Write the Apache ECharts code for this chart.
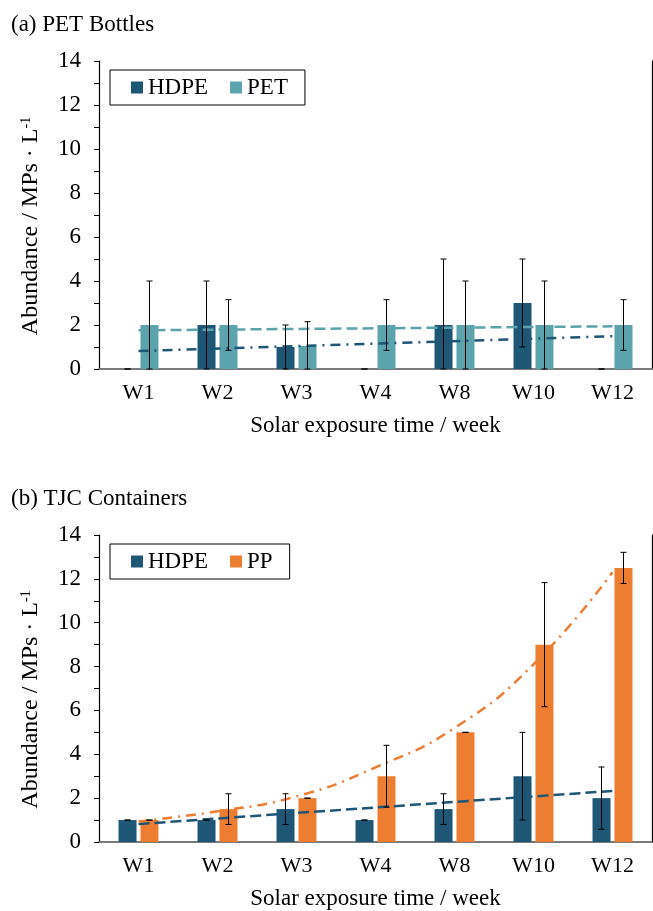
<!DOCTYPE html>
<html>
<head>
<meta charset="utf-8">
<script src="https://cdn.jsdelivr.net/npm/echarts@6/dist/echarts.min.js"></script>
<style>
html, body { margin: 0; padding: 0; background: #fff; }
#main { width: 653px; height: 911px; }
</style>
</head>
<body>
<div id="main"></div>
<script>
// categories
var weeks = ['W1', 'W2', 'W3', 'W4', 'W8', 'W10', 'W12'];
// (a) PET bottles
var petHdpe = [0, 2, 1, 0, 2, 3, 0];
var petHdpeErr = [0, 2, 1, 0, 3, 2, 0];
var petPet = [2, 2, 1.05, 2, 2, 2, 2];
var petPetErr = [2, 1.15, 1.1, 1.15, 2, 2, 1.15];
var petHdpeTrend = [0.82, null, null, null, null, null, 1.49];
var petPetTrend = [1.76, null, null, null, null, null, 1.94];
// (b) TJC containers
var tjcHdpe = [1, 1, 1.5, 1, 1.5, 3, 2];
var tjcHdpeErr = [0, 0, 0.7, 0, 0.7, 2, 1.42];
var tjcPp = [1, 1.5, 2, 3, 5, 9, 12.5];
var tjcPpErr = [0, 0.7, 0, 1.41, 0, 2.83, 0.71];
var tjcHdpeTrend = [0.82, null, null, null, null, null, 2.33];
var tjcPpTrend = [0.94, 1.4, 2.08, 3.4, 5.2, 8.1, 12.3];

var FONT = "'Liberation Serif', 'Times New Roman', serif";
var C_HDPE = '#1e5676';
var C_PET = '#5ba4ae';
var C_PP = '#ed7d31';
var BAR_W = 18;
var BAR_OFF = 11;

/*
 * 误差线
 */
function errSeries(name, gi, vals, errs, off) {
	return {
		name: name,
		type: 'custom',
		xAxisIndex: gi * 2,
		yAxisIndex: gi * 2,
		z: 5,
		encode: { x: 0, y: 1 },
		data: weeks.map(function (w, i) { return [i, vals[i], errs[i]]; }),
		renderItem: function (params, api) {
			var idx = api.value(0), v = api.value(1), e = api.value(2);
			var hi = api.coord([idx, v + e]);
			var lo = api.coord([idx, Math.max(v - e, 0)]);
			var x = hi[0] + off;
			var st = { stroke: '#000', lineWidth: 1 };
			return {
				type: 'group',
				children: [
					{ type: 'line', shape: { x1: x, y1: hi[1], x2: x, y2: lo[1] }, style: st },
					{ type: 'line', shape: { x1: x - 3, y1: hi[1], x2: x + 3, y2: hi[1] }, style: st },
					{ type: 'line', shape: { x1: x - 3, y1: lo[1], x2: x + 3, y2: lo[1] }, style: st }
				]
			};
		}
	};
}
function barSeries(name, gi, vals, color) {
	return {
		name: name,
		type: 'bar',
		xAxisIndex: gi * 2,
		yAxisIndex: gi * 2,
		barWidth: BAR_W,
		barGap: '22%',
		itemStyle: { color: color },
		data: vals
	};
}
function trendSeries(name, gi, vals, color, dash, smooth) {
	return {
		name: name,
		type: 'line',
		xAxisIndex: gi * 2,
		yAxisIndex: gi * 2,
		z: 4,
		symbol: 'none',
		smooth: smooth,
		connectNulls: true,
		lineStyle: { color: color, width: 2.5, type: dash },
		data: vals
	};
}
function xAxes(gi) {
	return [{
		type: 'category',
		gridIndex: gi,
		data: weeks,
		axisLine: { lineStyle: { color: '#404040', width: 1.5 } },
		axisTick: { show: false },
		axisLabel: { color: '#000', fontFamily: FONT, fontSize: 22, margin: 13 },
		name: 'Solar exposure time / week',
		nameLocation: 'middle',
		nameGap: 45,
		nameTextStyle: { color: '#000', fontFamily: FONT, fontSize: 23 }
	}, {
		type: 'category',
		gridIndex: gi,
		position: 'top',
		data: weeks,
		axisLine: { lineStyle: { color: '#808080', width: 1.5 } },
		axisTick: { show: false },
		axisLabel: { show: false }
	}];
}
function yAxes(gi) {
	return [{
		type: 'value',
		gridIndex: gi,
		min: 0,
		max: 14,
		interval: 1,
		splitLine: { show: false },
		axisLine: { show: true, lineStyle: { color: '#000', width: 1.2 } },
		axisTick: { show: true, length: 5, lineStyle: { color: '#000' } },
		axisLabel: {
			color: '#000', fontFamily: FONT, fontSize: 23, margin: 18,
			formatter: function (v) { return v % 2 === 0 ? v : ''; }
		},
		name: 'Abundance / MPs · L{sup|-1}',
		nameLocation: 'middle',
		nameGap: 56,
		nameRotate: 90,
		nameTextStyle: {
			color: '#000', fontFamily: FONT, fontSize: 24,
			padding: [0, 22, 0, 0],
			rich: { sup: { fontFamily: FONT, fontSize: 14, color: '#000', verticalAlign: 'top', padding: [0, 0, 10, 0] } }
		}
	}, {
		type: 'value',
		gridIndex: gi,
		position: 'right',
		min: 0,
		max: 14,
		splitLine: { show: false },
		axisLine: { show: true, lineStyle: { color: '#000', width: 1.2 } },
		axisTick: { show: false },
		axisLabel: { show: false }
	}];
}
function legendBox(top, names) {
	return {
		left: 110,
		top: top,
		data: names,
		icon: 'rect',
		itemWidth: 12,
		itemHeight: 12,
		itemGap: 22,
		padding: [6, 17, 6, 21],
		borderColor: '#000',
		borderWidth: 1,
		selectedMode: false,
		textStyle: { color: '#000', fontFamily: FONT, fontSize: 23 }
	};
}

var chart = echarts.init(document.getElementById('main'));
var option = {
	animation: false,
	backgroundColor: '#fff',
	title: [
		{ text: '(a) PET Bottles', left: 11, top: 13, padding: 0, textStyle: { color: '#000', fontFamily: FONT, fontSize: 23, fontWeight: 'normal' } },
		{ text: '(b) TJC Containers', left: 11, top: 487, padding: 0, textStyle: { color: '#000', fontFamily: FONT, fontSize: 23, fontWeight: 'normal' } }
	],
	legend: [legendBox(70, ['HDPE', 'PET']), legendBox(544, ['HDPE', 'PP'])],
	grid: [
		{ left: 99, right: 1, top: 61, height: 308 },
		{ left: 99, right: 1, top: 535, height: 308 }
	],
	xAxis: xAxes(0).concat(xAxes(1)),
	yAxis: yAxes(0).concat(yAxes(1)),
	series: [
		barSeries('HDPE', 0, petHdpe, C_HDPE),
		barSeries('PET', 0, petPet, C_PET),
		errSeries('errA1', 0, petHdpe, petHdpeErr, -BAR_OFF),
		errSeries('errA2', 0, petPet, petPetErr, BAR_OFF),
		trendSeries('trendA1', 0, petHdpeTrend, C_HDPE, [10, 6, 2, 6], false),
		trendSeries('trendA2', 0, petPetTrend, C_PET, [11, 5], false),
		barSeries('HDPE', 1, tjcHdpe, C_HDPE),
		barSeries('PP', 1, tjcPp, C_PP),
		errSeries('errB1', 1, tjcHdpe, tjcHdpeErr, -BAR_OFF),
		errSeries('errB2', 1, tjcPp, tjcPpErr, BAR_OFF),
		trendSeries('trendB1', 1, tjcHdpeTrend, C_HDPE, [11, 5], false),
		trendSeries('trendB2', 1, tjcPpTrend, C_PP, [10, 6, 2, 6], true)
	]
};
chart.setOption(option);
</script>
</body>
</html>
